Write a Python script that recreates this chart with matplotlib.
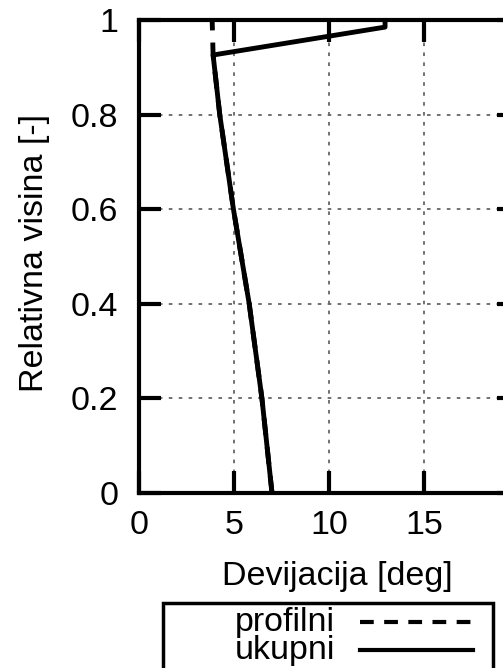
import matplotlib
matplotlib.use("Agg")
import matplotlib.pyplot as plt
from matplotlib.lines import Line2D
from matplotlib.patches import Rectangle

# relative height vs deviation
visina_profilni = [0.0, 0.2, 0.4, 0.6, 0.8, 0.926, 1.0]
dev_profilni = [7.0, 6.47, 5.8, 4.97, 4.25, 3.9, 3.85]

visina_ukupni = [0.0, 0.2, 0.4, 0.6, 0.8, 0.926, 0.985, 1.0]
dev_ukupni = [7.0, 6.47, 5.8, 4.97, 4.25, 3.9, 12.95, 12.95]

labels = ["profilni", "ukupni"]
xticks = [0, 5, 10, 15, 20]
xtick_labels = ["0", "5", "10", "15", ""]  # 20 falls outside the cropped picture
yticks = [0, 0.2, 0.4, 0.6, 0.8, 1]
ytick_labels = ["0", "0.2", "0.4", "0.6", "0.8", "1"]

plt.rcParams['font.family'] = ['Liberation Sans', 'DejaVu Sans']
fs = 24.5

W, H = 503, 668
fig = plt.figure(figsize=(W/100, H/100), dpi=100)
# axes runs past the right edge like the original (cropped)
ax = fig.add_axes([139/W, (H-493)/H, 380/W, 473/H])

ax.plot(dev_profilni, visina_profilni, color="black", lw=3.5, dashes=(3.5, 2.5))
ax.plot(dev_ukupni, visina_ukupni, color="black", lw=3.5)

ax.set_xlim(0, 20)
ax.set_ylim(0, 1)
ax.set_xticks(xticks)
ax.set_xticklabels(xtick_labels)
ax.set_yticks(yticks)
ax.set_yticklabels(ytick_labels)
ax.grid(True, color="#666666", lw=1.3, ls=(0, (2, 3.5)))
ax.set_axisbelow(True)

for s in ax.spines.values():
    s.set_linewidth(3)
ax.tick_params(direction="in", top=True, right=True, length=16, width=3,
               labelsize=fs)
ax.tick_params(axis="x", pad=12)
ax.tick_params(axis="y", pad=15)

ax.set_xlabel("Devijacija [deg]", fontsize=fs)
ax.xaxis.set_label_coords(0.522, -0.143)
ax.set_ylabel("Relativna visina [-]", fontsize=fs)
ax.yaxis.set_label_coords(-0.235, 0.507)

# gnuplot style key below the plot
fig.patches.append(Rectangle((163/W, -0.05), (493-163)/W, (H-603)/H + 0.05,
                             transform=fig.transFigure, fill=False,
                             edgecolor="black", lw=2.5))
rows = [622, 650]
styles = [dict(dashes=(3.3, 2.5)), dict()]
for lab, y, st in zip(labels, rows, styles):
    fig.text(335/W, 1 - y/H, lab, ha="right", va="center", fontsize=fs)
    fig.lines.append(Line2D([360/W, 473/W], [1 - y/H, 1 - y/H],
                            transform=fig.transFigure, color="black",
                            lw=3, **st))

fig.savefig("out.png", dpi=100)
